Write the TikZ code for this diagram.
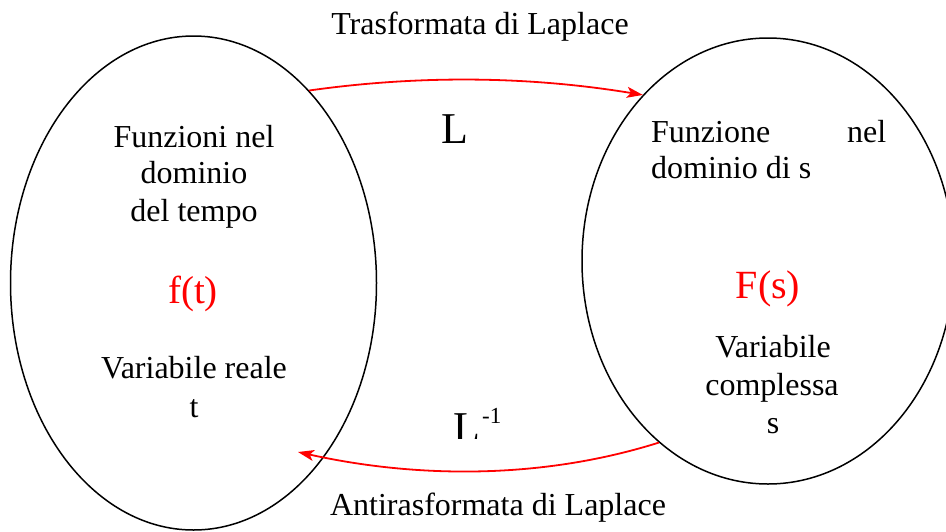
\documentclass[tikz,border=0pt]{standalone}
\usepackage{fontspec}
\setmainfont{Liberation Serif}
\usetikzlibrary{shapes.geometric,arrows.meta}
\tikzset{
  oval/.style={ellipse, draw=black, line width=1.5pt, inner sep=0pt},
  txt/.style={anchor=base, inner sep=0pt, font=\fontsize{32}{37}\selectfont},
  txtl/.style={anchor=base west, inner sep=0pt, font=\fontsize{32}{37}\selectfont},
  redtxt/.style={anchor=base, inner sep=0pt, text=red},
  redarrow/.style={draw=red, line width=1.8pt, -{Stealth[length=16pt,width=11pt,inset=4pt]}}
}
\begin{document}
\begin{tikzpicture}[x=1pt,y=-1pt]
\useasboundingbox (0,0) rectangle (946,531);
\clip (0,0) rectangle (946,531);
\fill[white] (0,0) rectangle (946,531);
% ellipses
\node[oval, minimum width=366pt, minimum height=494pt] (left) at (193.5,283) {};
\node[oval, minimum width=372pt, minimum height=446pt] (right) at (768,261) {};
% texts left
\node[txt] (l1) at (194,147) {Funzioni nel};
\node[txt] (l2) at (194,183) {dominio};
\node[txt] (l3) at (194,221) {del tempo};
\node[redtxt, font=\fontsize{39}{44}\selectfont] (ft) at (193,303) {f(t)};
\node[txt] (l4) at (194,378) {Variabile reale};
\node[txt] (l5) at (194,417) {t};
% texts right
\node[txtl, text width=235pt] (r1) at (651,142) {Funzione\hfill nel};
\node[txtl] (r2) at (651,178) {dominio di s};
\node[redtxt, font=\fontsize{40}{45}\selectfont] (Fs) at (768,298) {F(s)};
\node[txt] (r3) at (773,357) {Variabile};
\node[txt] (r4) at (772,395) {complessa};
\node[txt] (r5) at (773,433) {s};
% top / bottom labels
\node[txt] (top) at (480,34) {Trasformata di Laplace};
\node[txt] (bot) at (498,515) {Antirasformata di Laplace};
\node[txtl, font=\fontsize{44}{48}\selectfont] (Lop) at (441,143) {L};
\begin{scope}
  \clip (440,395) rectangle (482,438);
  \node[txtl, font=\fontsize{44}{48}\selectfont] (Linv) at (453,442) {L};
\end{scope}
\node[txtl, font=\fontsize{23}{25}\selectfont] (exp) at (482,423) {-1};
% arrows
\coordinate (tipB) at (298,452);
\draw[redarrow] (left.59) .. controls (419,75) and (528,76) .. (right.127.5);
\draw[redarrow] (right.239) .. controls (540,480) and (415,478) .. (tipB);
\end{tikzpicture}
\end{document}
